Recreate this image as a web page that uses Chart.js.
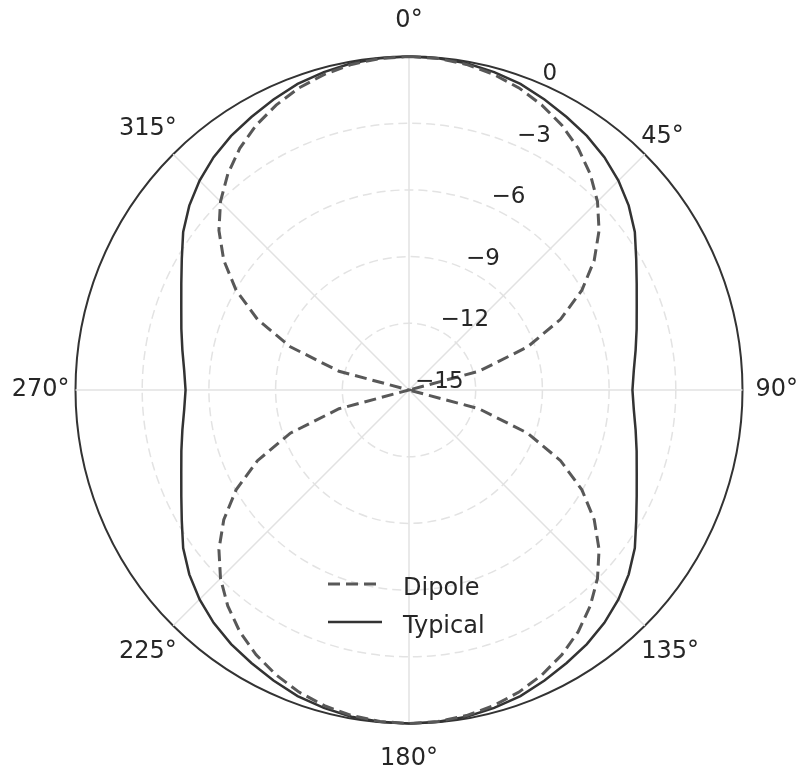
<!DOCTYPE html>
<html>
<head>
<meta charset="utf-8">
<script src="https://cdn.jsdelivr.net/npm/chart.js@4.4.1/dist/chart.umd.min.js"></script>
<style>
  html, body { margin: 0; padding: 0; background: #fff; }
  canvas { display: block; }
</style>
</head>
<body>
<canvas id="chart" width="803" height="771"></canvas>
<script>
// azimuth of each sample, degrees clockwise from the top
const angles = [
  0, 5, 10, 15, 20, 25, 30, 35, 40, 45, 50, 55, 60, 65, 70, 75, 80, 85,
  90, 95, 100, 105, 110, 115, 120, 125, 130, 135, 140, 145, 150, 155, 160, 165, 170, 175,
  180, 185, 190, 195, 200, 205, 210, 215, 220, 225, 230, 235, 240, 245, 250, 255, 260, 265,
  270, 275, 280, 285, 290, 295, 300, 305, 310, 315, 320, 325, 330, 335, 340, 345, 350, 355
];

// relative gain in dB, clipped at the -15 dB centre
const dipoleDb = [
  0, -0.03, -0.13, -0.3, -0.54, -0.86, -1.25, -1.73, -2.32, -3.01, -3.84, -4.83, -6.02, -7.48, -9.32, -11.74, -15, -15,
  -15, -15, -15, -11.74, -9.32, -7.48, -6.02, -4.83, -3.84, -3.01, -2.32, -1.73, -1.25, -0.86, -0.54, -0.3, -0.13, -0.03,
  0, -0.03, -0.13, -0.3, -0.54, -0.86, -1.25, -1.73, -2.32, -3.01, -3.84, -4.83, -6.02, -7.48, -9.32, -11.74, -15, -15,
  -15, -15, -15, -11.74, -9.32, -7.48, -6.02, -4.83, -3.84, -3.01, -2.32, -1.73, -1.25, -0.86, -0.54, -0.3, -0.13, -0.03
];

const typicalDb = [
  0, -0.02, -0.08, -0.2, -0.35, -0.58, -0.82, -1.05, -1.33, -1.68, -2.1, -2.6, -3.2, -3.7, -4.1, -4.4, -4.65, -4.85,
  -4.95, -4.85, -4.65, -4.4, -4.1, -3.7, -3.2, -2.6, -2.1, -1.68, -1.33, -1.05, -0.82, -0.58, -0.35, -0.2, -0.08, -0.02,
  0, -0.02, -0.08, -0.2, -0.35, -0.58, -0.82, -1.05, -1.33, -1.68, -2.1, -2.6, -3.2, -3.7, -4.1, -4.4, -4.65, -4.85,
  -4.95, -4.85, -4.65, -4.4, -4.1, -3.7, -3.2, -2.6, -2.1, -1.68, -1.33, -1.05, -0.82, -0.58, -0.35, -0.2, -0.08, -0.02
];

const seriesNames = ['Dipole', 'Typical'];
const radialTicks = [-15, -12, -9, -6, -3, 0];
const radialTickLabels = ['\u221215', '\u221212', '\u22129', '\u22126', '\u22123', '0'];

const FONT = 'DejaVu Sans';
const TEXT = '#262626';

const isMajor = (i) => angles[i] % 45 === 0;

// padding / line height per major angle label, so the labels sit centred
// on a ring just outside the plot like matplotlib does
const labelPad = { 0: 23.5, 45: -5, 90: 13, 135: -5, 180: 23.5, 225: -5, 270: 6, 315: -5 };
const labelLH = { 0: 1, 45: 1.77, 90: 1, 135: 2.42, 180: 1, 225: 2.42, 270: 1, 315: 2.42 };

// r tick labels along the 22.5 degree ray
const rLabels = {
  id: 'rLabels',
  afterDraw(chart) {
    const s = chart.scales.r;
    const ctx = chart.ctx;
    const a = 22.5 * Math.PI / 180;
    ctx.save();
    ctx.font = '23px "' + FONT + '"';
    ctx.fillStyle = TEXT;
    ctx.textAlign = 'left';
    ctx.textBaseline = 'alphabetic';
    s.ticks.forEach((t) => {
      const d = s.getDistanceFromCenterForValue(t.value);
      const label = t.label || radialTickLabels[radialTicks.indexOf(t.value)];
      ctx.fillText(label, s.xCenter + d * Math.sin(a) + 6, s.yCenter - d * Math.cos(a) - 2);
    });
    ctx.restore();
  }
};

// legend in the lower middle of the axes
const lowerLegend = {
  id: 'lowerLegend',
  afterDraw(chart) {
    const s = chart.scales.r;
    const ctx = chart.ctx;
    const x0 = s.xCenter - 81;
    const y0 = s.yCenter + 194;
    chart.data.datasets.forEach((ds, i) => {
      const y = y0 + i * 38;
      ctx.save();
      ctx.strokeStyle = ds.borderColor;
      ctx.lineWidth = ds.borderWidth;
      ctx.setLineDash(ds.borderDash || []);
      ctx.beginPath();
      ctx.moveTo(x0, y);
      ctx.lineTo(x0 + 54, y);
      ctx.stroke();
      ctx.setLineDash([]);
      ctx.font = '24px "' + FONT + '"';
      ctx.fillStyle = TEXT;
      ctx.textBaseline = 'alphabetic';
      ctx.fillText(ds.label, x0 + 75, y + 10.5);
      ctx.restore();
    });
  }
};

new Chart(document.getElementById('chart'), {
  type: 'radar',
  data: {
    labels: angles,
    datasets: [
      {
        label: seriesNames[0],
        data: dipoleDb,
        borderColor: '#585858',
        borderWidth: 3,
        borderDash: [12, 6],
        pointRadius: 0,
        fill: false,
        tension: 0
      },
      {
        label: seriesNames[1],
        data: typicalDb,
        borderColor: '#333333',
        borderWidth: 2.5,
        pointRadius: 0,
        fill: false,
        tension: 0
      }
    ]
  },
  options: {
    responsive: false,
    animation: false,
    devicePixelRatio: 1,
    layout: { padding: { left: 7, top: 9, right: 0, bottom: 0 } },
    plugins: {
      legend: { display: false },
      tooltip: { enabled: false }
    },
    scales: {
      r: {
        min: -15,
        max: 0,
        ticks: {
          display: false,
          stepSize: 3,
          callback: (v) => radialTickLabels[radialTicks.indexOf(v)]
        },
        grid: {
          circular: true,
          color: (c) => c.tick && c.tick.value === 0 ? '#333333' : (c.tick && c.tick.value === -15 ? 'rgba(0,0,0,0)' : '#e3e3e3'),
          lineWidth: (c) => c.tick && c.tick.value === 0 ? 2 : 1.5
        },
        border: {
          dash: (c) => c.tick && c.tick.value === 0 ? [] : [9, 5]
        },
        angleLines: {
          color: '#e2e2e2',
          lineWidth: (c) => isMajor(c.index) ? 1.5 : 0
        },
        pointLabels: {
          display: true,
          color: TEXT,
          callback: (v, i) => isMajor(i) ? v + '\u00b0' : '',
          padding: (c) => isMajor(c.index) ? labelPad[angles[c.index]] : 0,
          font: (c) => isMajor(c.index)
            ? { family: FONT, size: 24, lineHeight: labelLH[angles[c.index]] }
            : { family: FONT, size: 1, lineHeight: 1 }
        }
      }
    }
  },
  plugins: [rLabels, lowerLegend]
});
</script>
</body>
</html>
